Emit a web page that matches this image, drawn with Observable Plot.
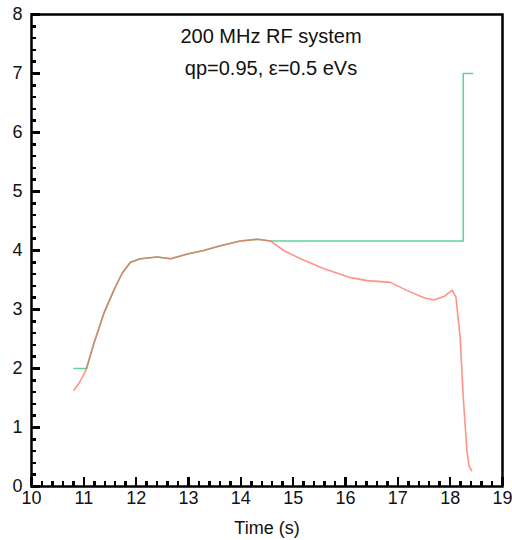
<!DOCTYPE html>
<html><head><meta charset="utf-8">
<script src="https://cdn.jsdelivr.net/npm/d3@7"></script>
<script src="https://cdn.jsdelivr.net/npm/@observablehq/plot@0.6"></script>
<style>body{margin:0;background:#fff}</style>
</head><body><div id="chart"></div>
<script>
const titleLines = ["200 MHz RF system", "qp=0.95, ε=0.5 eVs"];
const xLabel = "Time (s)";
const xTicks = [10,11,12,13,14,15,16,17,18,19];
const yTicks = [0,1,2,3,4,5,6,7,8];

const redT = [10.81,10.90,10.97,11.05,11.19,11.38,11.57,11.73,11.89,12.08,12.40,12.66,12.98,13.29,13.61,13.99,14.31,14.57,14.82,15.14,15.59,16.10,16.42,16.86,17.18,17.50,17.69,17.88,18.04,18.11,18.19,18.25,18.32,18.36,18.41];
const redV = [1.63,1.74,1.85,1.99,2.42,2.93,3.32,3.61,3.80,3.86,3.89,3.86,3.94,4.00,4.08,4.16,4.19,4.16,4.00,3.86,3.69,3.54,3.49,3.46,3.32,3.20,3.16,3.22,3.33,3.21,2.53,1.51,0.61,0.35,0.27];
const greenT = [10.81,11.05,11.19,11.38,11.57,11.73,11.89,12.08,12.40,12.66,12.98,13.29,13.61,13.99,14.31,14.57,18.25,18.25,18.43];
const greenV = [2.00,2.00,2.42,2.93,3.32,3.61,3.80,3.86,3.89,3.86,3.94,4.00,4.08,4.16,4.19,4.16,4.16,7.00,7.00];

const red = redT.map((t,i)=>({t, v: redV[i]}));
const green = greenT.map((t,i)=>({t, v: greenV[i]}));
const xMinor = d3.range(10, 19.001, 0.2).map(d=>+d.toFixed(1)).filter(d=>!xTicks.includes(d));
const yMinor = d3.range(0, 8.001, 0.2).map(d=>+d.toFixed(1)).filter(d=>!yTicks.includes(d));

const W = 512, H = 540, mL = 31, mR = 10, mT = 14, mB = 54;
const pw = W - mL - mR, ph = H - mT - mB;
const tickStyle = {stroke: "#000", strokeWidth: 2.5, shapeRendering: "crispEdges"};

const plot = Plot.plot({
  width: W, height: H,
  marginLeft: mL, marginRight: mR, marginTop: mT, marginBottom: mB,
  style: {fontFamily: "'Liberation Sans', Arial, sans-serif", fontSize: "18px", color: "#111"},
  x: {domain: [10, 19]},
  y: {domain: [0, 8]},
  marks: [
    Plot.axisX({ticks: xTicks, tickSize: 0, tickPadding: 5, label: null, fontSize: 18}),
    Plot.axisY({ticks: yTicks, tickSize: 0, tickPadding: 9, label: null, fontSize: 18}),
    Plot.ruleX(xMinor, {x: d=>d, insetTop: ph - 5, ...tickStyle}),
    Plot.ruleX(xTicks, {x: d=>d, insetTop: ph - 9, ...tickStyle}),
    Plot.ruleY(yMinor, {y: d=>d, insetRight: pw - 5, ...tickStyle}),
    Plot.ruleY(yTicks, {y: d=>d, insetRight: pw - 9, ...tickStyle}),
    Plot.line(green, {x: "t", y: "v", stroke: "#5fd39c", strokeWidth: 1.6}),
    Plot.line(red, {x: "t", y: "v", stroke: "#ff6a5a", strokeWidth: 1.6, strokeOpacity: 0.72}),
    Plot.frame({stroke: "#000", strokeWidth: 2.5}),
    Plot.text([titleLines[0]], {frameAnchor: "top", lineAnchor: "middle", dx: 4, dy: 22, fontSize: 20, fill: "#111"}),
    Plot.text([titleLines[1]], {frameAnchor: "top", lineAnchor: "middle", dx: 4, dy: 54, fontSize: 20, fill: "#111"}),
    Plot.text([xLabel], {frameAnchor: "bottom", lineAnchor: "middle", dy: 42, fontSize: 18, fill: "#111"})
  ]
});
document.getElementById("chart").appendChild(plot);
</script>
</body></html>
